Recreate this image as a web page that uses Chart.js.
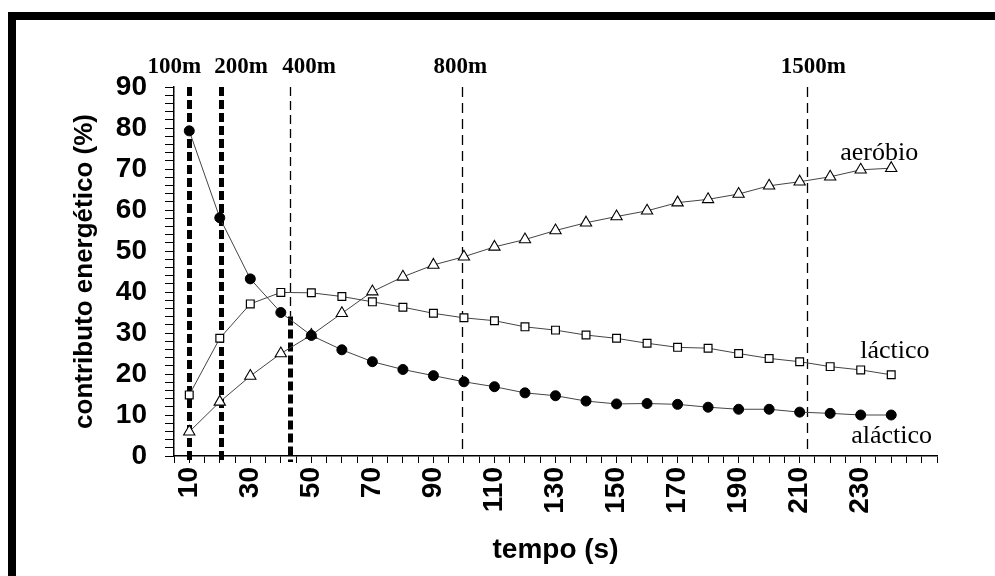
<!DOCTYPE html>
<html><head><meta charset="utf-8">
<script src="https://cdn.jsdelivr.net/npm/chart.js@4"></script>
<style>
html,body{margin:0;padding:0;background:#fff;overflow:hidden;}
#wrap{position:relative;width:995px;height:576px;}
#frame{position:absolute;left:8px;top:12px;width:1000px;height:600px;border-top:8px solid #000;border-left:8px solid #000;box-sizing:border-box;pointer-events:none;}
canvas{position:absolute;left:0;top:0;}
</style></head><body>
<div id="wrap"><canvas id="c" width="995" height="576"></canvas><div id="frame"></div></div>
<script>
// ---- data ----
const times = [10,20,30,40,50,60,70,80,90,100,110,120,130,140,150,160,170,180,190,200,210,220,230,240];
const alactico = [79.3,58.1,43.2,35.0,29.4,25.9,23.0,21.1,19.6,18.1,16.9,15.4,14.7,13.4,12.7,12.8,12.6,11.9,11.4,11.4,10.7,10.4,10.0,10.0];
const lactico  = [14.9,28.7,37.1,39.9,39.8,38.9,37.6,36.3,34.8,33.7,33.0,31.5,30.7,29.5,28.7,27.5,26.5,26.3,25.0,23.8,23.0,21.8,21.0,19.8];
const aerobio  = [5.9,13.2,19.5,25.0,29.5,34.8,40.1,43.7,46.6,48.6,51.0,52.8,55.0,56.9,58.4,59.8,61.8,62.6,63.9,65.9,66.9,68.1,69.8,70.2];
const seriesNames = ['aláctico','láctico','aeróbio'];
const raceNames = ['100m','200m','400m','800m','1500m'];
const raceTimes = [10,20.4,43,99.5,212.5];
const xTickLabels = [10,30,50,70,90,110,130,150,170,190,210,230];
const yTickLabels = [0,10,20,30,40,50,60,70,80,90];

// ---- styles / layout (not data) ----
const raceStyles = [
  {w:5, dash:[9,4]},
  {w:5, dash:[9,4]},
  {w:1.3, dash:[9,5], splitAt:34, w2:5, dash2:[9,4]},
  {w:1.3, dash:[10,6]},
  {w:1.3, dash:[10,6]}
];
const raceLabelDx = [-15, 20, 19, -2, 6];
const seriesLabelOffsets = [{dx:-40, dy:28},{dx:-31, dy:-17},{dx:-51, dy:-8}];

const serif = '"Liberation Serif","Times New Roman",serif';
const sans = '"Liberation Sans",Arial,sans-serif';

const overlay = {
  id:'overlay',
  beforeDatasetsDraw(chart){
    const {ctx, scales:{x,y}} = chart;
    const top = y.getPixelForValue(90), bot = y.getPixelForValue(0);
    ctx.save();
    ctx.strokeStyle = '#000';
    raceTimes.forEach((t,i)=>{
      const px = Math.round(x.getPixelForValue(t)) + 0.5;
      const st = raceStyles[i];
      if (st.splitAt !== undefined) {
        const mid = y.getPixelForValue(st.splitAt);
        ctx.lineWidth = st.w; ctx.setLineDash(st.dash);
        ctx.beginPath(); ctx.moveTo(px, top); ctx.lineTo(px, mid); ctx.stroke();
        ctx.lineWidth = st.w2; ctx.setLineDash(st.dash2);
        ctx.beginPath(); ctx.moveTo(px, mid); ctx.lineTo(px, bot + 6); ctx.stroke();
      } else {
        ctx.lineWidth = st.w; ctx.setLineDash(st.dash);
        ctx.beginPath(); ctx.moveTo(px, top); ctx.lineTo(px, st.w > 2 ? bot + 6 : bot); ctx.stroke();
      }
    });
    ctx.restore();
  },
  afterDraw(chart){
    const {ctx, scales:{x,y}} = chart;
    ctx.save();
    ctx.fillStyle = '#000';
    ctx.textBaseline = 'alphabetic';
    ctx.textAlign = 'center';
    ctx.font = 'bold 23px ' + serif;
    const top = y.getPixelForValue(90);
    raceTimes.forEach((t,i)=>{
      ctx.fillText(raceNames[i], x.getPixelForValue(t) + raceLabelDx[i], top - 14);
    });
    ctx.textAlign = 'left';
    ctx.font = '26px ' + serif;
    const series = [alactico, lactico, aerobio];
    series.forEach((s,i)=>{
      const last = s.length - 1;
      const px = x.getPixelForValue(times[last]);
      const py = y.getPixelForValue(s[last]);
      ctx.fillText(seriesNames[i], px + seriesLabelOffsets[i].dx, py + seriesLabelOffsets[i].dy);
    });
    ctx.restore();
  }
};

const lineColor = '#444';
new Chart(document.getElementById('c'), {
  type:'line',
  data:{
    datasets:[
      {label:seriesNames[0], data:times.map((t,i)=>({x:t,y:alactico[i]})), borderColor:lineColor, borderWidth:1,
       pointStyle:'circle', pointRadius:5, pointBackgroundColor:'#000', pointBorderColor:'#000', pointBorderWidth:1},
      {label:seriesNames[1], data:times.map((t,i)=>({x:t,y:lactico[i]})), borderColor:lineColor, borderWidth:1,
       pointStyle:'rect', pointRadius:5.5, pointBackgroundColor:'#fff', pointBorderColor:'#000', pointBorderWidth:1.2},
      {label:seriesNames[2], data:times.map((t,i)=>({x:t,y:aerobio[i]})), borderColor:lineColor, borderWidth:1,
       pointStyle:'triangle', pointRadius:6.5, pointBackgroundColor:'#fff', pointBorderColor:'#000', pointBorderWidth:1.1}
    ]
  },
  options:{
    responsive:false, animation:false, devicePixelRatio:1,
    layout:{padding:{left:0, top:87, right:58, bottom:0}},
    plugins:{legend:{display:false}, tooltip:{enabled:false}},
    elements:{line:{tension:0}},
    scales:{
      x:{
        type:'linear', min:5, max:255,
        border:{display:true, color:'#000', width:1.5},
        grid:{drawOnChartArea:false, drawTicks:true, tickLength:7, color:'#000', lineWidth:1},
        ticks:{stepSize:5, autoSkip:false, maxTicksLimit:1000, minRotation:90, maxRotation:90, padding:4,
          color:'#000', font:{family:sans, size:28, weight:'bold'},
          callback:(v)=> xTickLabels.includes(v) ? String(v) : ''},
        title:{display:true, text:'tempo (s)', color:'#000', font:{family:sans, size:28, weight:'bold'}, padding:{top:0,bottom:9}},
        afterFit:(s)=>{ s.height = 120; }
      },
      y:{
        type:'linear', min:0, max:90,
        border:{display:true, color:'#000', width:1.5},
        grid:{drawOnChartArea:false, drawTicks:true, tickLength:9, color:'#000', lineWidth:1},
        ticks:{stepSize:2, autoSkip:false, maxTicksLimit:1000, padding:18,
          color:'#000', font:{family:sans, size:28, weight:'bold'},
          callback:(v)=> yTickLabels.includes(v) ? String(v) : ''},
        title:{display:true, text:'contributo energético (%)', color:'#000', font:{family:sans, size:26, weight:'bold'}, padding:{top:69,bottom:0}},
        afterFit:(s)=>{ s.width = 174; }
      }
    }
  },
  plugins:[overlay]
});
</script>
</body></html>
